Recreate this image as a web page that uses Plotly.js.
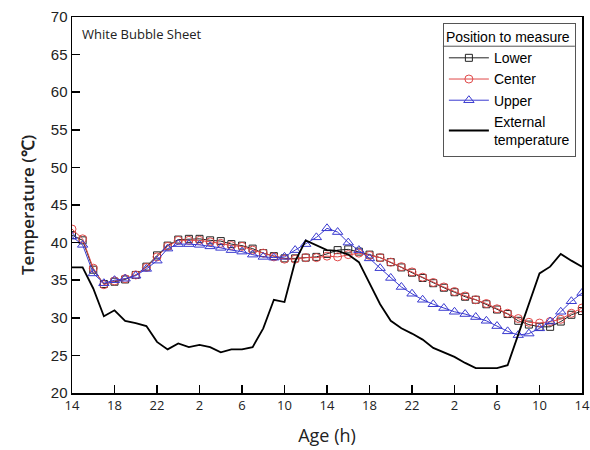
<!DOCTYPE html>
<html>
<head>
<meta charset="utf-8">
<script src="https://cdn.plot.ly/plotly-3.0.1.min.js"></script>
<style>html,body{margin:0;padding:0;background:#fff;}#chart{width:590px;height:450px;}</style>
</head>
<body>
<div id="chart"></div>
<script>
// hours elapsed since 14 h of day 1
var hours = [0,1,2,3,4,5,6,7,8,9,10,11,12,13,14,15,16,17,18,19,20,21,22,23,24,25,26,27,28,29,30,31,32,33,34,35,36,37,38,39,40,41,42,43,44,45,46,47,48];
var tickPositions = [0,4,8,12,16,20,24,28,32,36,40,44,48];
var tickLabels = ['14','18','22','2','6','10','14','18','22','2','6','10','14'];

var lower = [41.0,40.3,36.4,34.5,34.8,35.1,35.7,36.8,38.3,39.6,40.4,40.5,40.5,
  40.3,40.2,39.8,39.6,39.2,38.6,38.2,37.9,37.9,38.0,38.1,38.5,
  39.0,39.1,38.8,38.4,38.0,37.4,36.7,36.0,35.3,34.6,34.0,33.4,
  32.8,32.4,31.8,31.1,30.5,29.6,29.1,28.8,28.8,29.5,30.4,30.9];
var center = [41.8,40.5,36.6,34.4,34.9,35.2,35.7,36.7,38.1,39.5,40.3,40.3,40.3,
  40.1,39.9,39.6,39.5,39.0,38.6,38.1,37.8,37.8,38.0,38.0,38.2,
  38.1,38.4,38.6,38.3,38.0,37.4,36.8,36.1,35.4,34.7,34.1,33.5,
  32.9,32.4,31.9,31.2,30.6,29.9,29.4,29.3,29.5,29.8,30.6,31.3];
var upper = [40.8,39.7,35.9,34.6,35.0,35.2,35.6,36.5,37.6,39.2,39.8,39.8,39.7,
  39.5,39.3,39.0,38.8,38.4,38.1,38.0,38.1,39.0,39.8,40.7,41.9,
  41.4,40.0,39.0,37.9,36.6,35.3,34.1,33.2,32.4,31.8,31.3,30.8,
  30.5,30.1,29.6,28.9,28.2,27.7,27.9,28.6,29.5,30.8,32.2,33.3];
var external = [36.7,36.7,33.9,30.2,31.0,29.6,29.3,28.9,26.8,25.8,26.6,26.1,26.4,
  26.1,25.4,25.8,25.8,26.1,28.6,32.4,32.1,37.5,40.3,39.7,39.0,
  38.9,38.4,37.4,34.5,31.8,29.6,28.6,27.9,27.1,26.0,25.4,24.8,
  24.0,23.3,23.3,23.3,23.7,27.8,31.8,35.9,36.8,38.5,37.6,36.8];

var traces = [
  {x: hours, y: lower, name: 'Lower', type: 'scatter', mode: 'lines+markers',
   line: {color: '#222222', width: 1},
   marker: {symbol: 'square-open', size: 7, color: '#222222', line: {width: 1}}},
  {x: hours, y: center, name: 'Center', type: 'scatter', mode: 'lines+markers',
   line: {color: '#e04848', width: 1},
   marker: {symbol: 'circle-open', size: 8, color: '#e04848', line: {width: 1}}},
  {x: hours, y: upper, name: 'Upper', type: 'scatter', mode: 'lines+markers',
   line: {color: '#3a3ad0', width: 1},
   marker: {symbol: 'triangle-up-open', size: 9, color: '#3a3ad0', line: {width: 1}}},
  {x: hours, y: external, name: 'External<br>temperature', type: 'scatter', mode: 'lines',
   line: {color: '#000000', width: 1.8}}
];

var layout = {
  width: 590, height: 450,
  margin: {l: 72, r: 8, t: 17, b: 57},
  paper_bgcolor: '#fff', plot_bgcolor: '#fff',
  showlegend: true,
  xaxis: {
    range: [0, 48], tickvals: tickPositions, ticktext: tickLabels,
    ticks: 'inside', ticklen: 8, tickwidth: 1.5, tickcolor: '#000',
    showline: true, linecolor: '#000', linewidth: 1.5, mirror: true,
    showgrid: false, zeroline: false, ticklabeloverflow: 'allow',
    tickfont: {family: 'Open Sans, sans-serif', size: 13, color: '#222'},
    title: {text: 'Age (h)', font: {family: 'Open Sans, sans-serif', size: 18, color: '#222'}, standoff: 16}
  },
  yaxis: {
    range: [20, 70], tick0: 20, dtick: 5,
    ticks: 'inside', ticklen: 8, tickwidth: 1.5, tickcolor: '#000',
    showline: true, linecolor: '#000', linewidth: 1.5, mirror: true,
    showgrid: false, zeroline: false,
    tickfont: {family: 'Liberation Sans, Arial, sans-serif', size: 15, color: '#222'},
    minor: {tick0: 20, dtick: 10, showgrid: true, gridcolor: '#aaaaaa', griddash: 'dot', gridwidth: 1, ticks: ''},
    title: {text: 'Temperature (℃)', font: {family: 'Open Sans, sans-serif', size: 17, color: '#222', weight: 600}, standoff: 12}
  },
  legend: {
    x: 0.988, y: 0.984, xanchor: 'right', yanchor: 'top',
    bgcolor: '#fff', bordercolor: '#555', borderwidth: 1,
    font: {family: 'Liberation Sans, Arial, sans-serif', size: 14, color: '#000'},
    title: {text: 'Position to measure', font: {family: 'Liberation Sans, Arial, sans-serif', size: 14, color: '#000'}},
    tracegroupgap: 0, itemwidth: 40
  },
  annotations: [
    {xref: 'paper', yref: 'paper', x: 0.016, y: 0.985, xanchor: 'left', yanchor: 'top',
     text: 'White Bubble Sheet', showarrow: false,
     font: {family: 'Open Sans, sans-serif', size: 13, color: '#222'}}
  ]
};

Plotly.newPlot('chart', traces, layout, {displayModeBar: false, staticPlot: true}).then(function(gd){
  // separator line under legend title
  var lg = gd.querySelector('.legend');
  if (lg) {
    var bg = lg.querySelector('.bg');
    var title = lg.querySelector('.legendtitletext');
    if (bg && title) {
      var bw = parseFloat(bg.getAttribute('width'));
      var tb = title.getBBox();
      var ns = 'http://www.w3.org/2000/svg';
      var ln = document.createElementNS(ns, 'line');
      var yy = tb.y + tb.height + 1;
      ln.setAttribute('x1', 0); ln.setAttribute('x2', bw);
      ln.setAttribute('y1', yy); ln.setAttribute('y2', yy);
      ln.setAttribute('stroke', '#555'); ln.setAttribute('stroke-width', 1);
      lg.appendChild(ln);
    }
  }
});
</script>
</body>
</html>
